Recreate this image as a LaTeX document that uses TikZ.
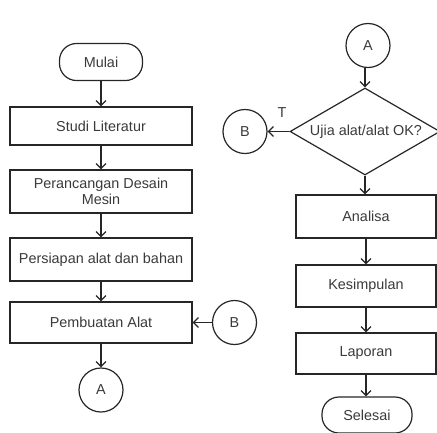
\documentclass[tikz,border=0pt]{standalone}
\usepackage{fontspec}
\setmainfont{Liberation Sans}
\usetikzlibrary{arrows.meta,shapes.geometric}
\definecolor{ink}{HTML}{262626}
\definecolor{txt}{HTML}{3A3A3A}
\tikzset{
  every node/.style={font=\fontsize{14.4}{16}\selectfont, text=txt},
  procbox/.style={draw=ink, line width=1.2pt, rectangle, inner sep=0pt, align=center},
  termbox/.style={draw=ink, line width=1.2pt, rectangle, rounded corners=17pt, inner sep=0pt},
  conn/.style={draw=ink, line width=1.2pt, circle, minimum size=44pt, inner sep=0pt},
  decis/.style={draw=ink, line width=1.2pt, diamond, minimum width=150pt, minimum height=87pt, inner sep=0pt},
  arr/.style={draw=ink, line width=1.2pt, -{Straight Barb[length=5pt,width=10pt]}}
}
\begin{document}
\begin{tikzpicture}[x=1pt,y=1pt]
\useasboundingbox (0,0) rectangle (437,-432);
% left column
\node[termbox, minimum width=83pt, minimum height=37pt] (mulai) at (101,-62) {Mulai};
\node[procbox, minimum width=182pt, minimum height=38pt] (studi) at (101,-126) {Studi Literatur};
\node[procbox, minimum width=182pt, minimum height=43pt] (peranc) at (101,-191.5) {Perancangan Desain\\Mesin};
\node[procbox, minimum width=182pt, minimum height=43pt] (persiapan) at (101,-259.5) {Persiapan alat dan bahan};
\node[procbox, minimum width=182pt, minimum height=41pt] (pembuatan) at (101,-322.5) {Pembuatan Alat};
\node[conn] (aleft) at (101,-390) {A};
\node[conn] (bleft) at (234.5,-322.5) {B};
% right column
\node[conn] (aright) at (368,-45.5) {A};
\node[decis] (dia) at (365,-131.5) {};
\node (diatext) at (366,-131.5) {Ujia alat/alat OK?};
\node[conn] (bright) at (245,-131.5) {B};
\node (tlabel) at (282,-113) {T};
\node[procbox, minimum width=140pt, minimum height=43pt] (analisa) at (366,-216.5) {Analisa};
\node[procbox, minimum width=140pt, minimum height=42pt] (kesimpulan) at (366,-286) {Kesimpulan};
\node[procbox, minimum width=140pt, minimum height=41pt] (laporan) at (366,-353.5) {Laporan};
\node[termbox, minimum width=90pt, minimum height=36pt] (selesai) at (367,-415) {Selesai};
% connectors
\draw[arr] (mulai) -- (studi);
\draw[arr] (studi) -- (peranc);
\draw[arr] (peranc) -- (persiapan);
\draw[arr] (persiapan) -- (pembuatan);
\draw[arr] (pembuatan) -- (aleft);
\draw[arr] (bleft) -- (pembuatan);
\draw[arr] (aright.south -| dia.north) -- (dia.north);
\draw[arr] (dia.west) -- (bright);
\draw[arr] (dia.south) -- (dia.south |- analisa.north);
\draw[arr] (analisa) -- (kesimpulan);
\draw[arr] (kesimpulan) -- (laporan);
\draw[arr] (laporan.south) -- (laporan.south |- selesai.north);
\end{tikzpicture}
\end{document}
